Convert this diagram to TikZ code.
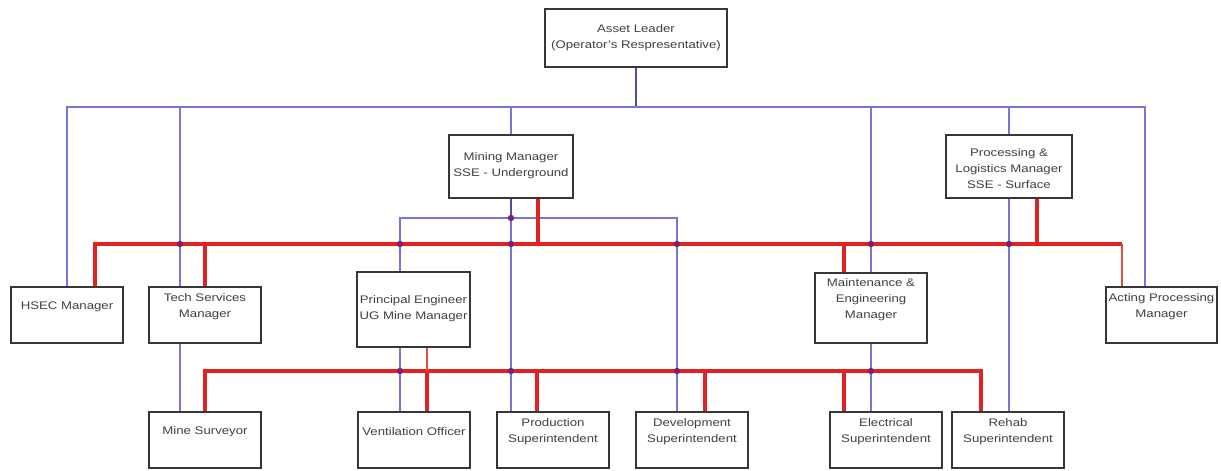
\documentclass[tikz,border=0pt]{standalone}
\usepackage{fontspec}
\setmainfont{Liberation Sans}[FakeStretch=1.2]
\usepackage{tikz}

\definecolor{orgblue}{RGB}{118,118,214}
\definecolor{orgnavy}{RGB}{78,78,160}
\definecolor{orgred}{RGB}{226,34,34}
\definecolor{orgrust}{RGB}{222,80,60}
\definecolor{orgdot}{RGB}{125,35,105}
\definecolor{orgbox}{RGB}{55,55,55}

\begin{document}
\begin{tikzpicture}[x=1pt, y=-1pt,
    post/.style={draw=orgbox, line width=1.3pt, fill=white, minimum width=112pt, minimum height=56pt, inner sep=0pt},
    posttext/.style={align=center, font=\fontsize{11}{16}\selectfont, text=black!75, inner sep=0pt},
    link/.style={draw=orgblue, line width=1.4pt},
    linkdark/.style={draw=orgnavy, line width=1.4pt},
    duty/.style={draw=orgred, line width=4pt},
    thinduty/.style={draw=orgrust, line width=2.4pt}]

    \fill[white] (0,0) rectangle (1221,471);
    \useasboundingbox (0,0) rectangle (1221,471);

    \coordinate (busA) at (0,107);
    \coordinate (busB) at (0,218);
    \coordinate (busC) at (0,244);
    \coordinate (busD) at (0,371);

    \node[post, minimum width=182pt, minimum height=58pt] (lead) at (636,38) {};
    \node[posttext] (leadT) at (636,38) {Asset Leader\\(Operator's Respresentative)};

    \node[post, minimum width=124pt, minimum height=63pt] (mm) at (511,166.5) {};
    \node[posttext] (mmT) at (511,166) {Mining Manager\\SSE - Underground};

    \node[post, minimum width=126pt, minimum height=63pt] (plm) at (1009,166.5) {};
    \node[posttext] (plmT) at (1009,169) {Processing \&\\Logistics Manager\\SSE - Surface};

    \node[post] (hsec) at (67,315) {};
    \node[posttext] (hsecT) at (67,307) {HSEC Manager};

    \node[post] (tech) at (205,315) {};
    \node[posttext] (techT) at (205,307) {Tech Services\\Manager};

    \node[post, minimum width=113pt, minimum height=75pt] (pe) at (413.5,309.5) {};
    \node[posttext] (peT) at (413.5,309) {Principal Engineer\\UG Mine Manager};

    \node[post, minimum height=70pt] (mem) at (871,308) {};
    \node[posttext] (memT) at (871,300) {Maintenance \&\\Engineering\\Manager};

    \node[post, minimum width=111pt] (apm) at (1161.5,315) {};
    \node[posttext] (apmT) at (1161.5,307) {Acting Processing\\Manager};

    \node[post] (surv) at (205,440) {};
    \node[posttext] (survT) at (205,432) {Mine Surveyor};

    \node[post] (vent) at (414,440) {};
    \node[posttext] (ventT) at (414,432) {Ventilation Officer};

    \node[post] (prod) at (553,440) {};
    \node[posttext] (prodT) at (553,432) {Production\\Superintendent};

    \node[post] (dev) at (692,440) {};
    \node[posttext] (devT) at (692,432) {Development\\Superintendent};

    \node[post] (elec) at (886,440) {};
    \node[posttext] (elecT) at (886,432) {Electrical\\Superintendent};

    \node[post] (rehab) at (1008,440) {};
    \node[posttext] (rehabT) at (1008,432) {Rehab\\Superintendent};

    \draw[linkdark] (lead.south) -- (lead.south |- busA);
    \draw[link] (hsec.north) |- ([xshift=-16.5pt]apm.north |- busA) -- ([xshift=-16.5pt]apm.north);
    \draw[link] ([xshift=-25pt]tech.north |- busA) -- ([xshift=-25pt]tech.north);
    \draw[link] (mm.north |- busA) -- (mm.north);
    \draw[link] (mem.north |- busA) -- (mem.north);
    \draw[link] (plm.north |- busA) -- (plm.north);

    \draw[linkdark] (mm.south) -- (mm.south |- busB);
    \draw[link] ([xshift=-13.5pt]pe.north) |- ([xshift=-15pt]dev.north |- busB) -- ([xshift=-15pt]dev.north);
    \draw[link] (mm.south |- busB) -- ([xshift=-42pt]prod.north);
    \draw[link] ([xshift=-13.5pt]pe.south) -- ([xshift=-14pt]vent.north);
    \draw[link] ([xshift=-25pt]tech.south) -- ([xshift=-25pt]surv.north);
    \draw[link] (mem.south) -- ([xshift=-15pt]elec.north);
    \draw[link] (plm.south) -- ([xshift=1pt]rehab.north);

    \draw[duty] ([xshift=28pt]hsec.north) |- ([xshift=-39.5pt]apm.north |- busC);
    \draw[thinduty] ([xshift=-39.5pt]apm.north |- busC) -- ([xshift=-39.5pt]apm.north);
    \draw[duty] (tech.north |- busC) -- (tech.north);
    \draw[duty] ([xshift=27pt]mm.south) -- ([xshift=27pt]mm.south |- busC);
    \draw[duty] ([xshift=-27pt]mem.north |- busC) -- ([xshift=-27pt]mem.north);
    \draw[duty] ([xshift=28pt]plm.south) -- ([xshift=28pt]plm.south |- busC);

    \draw[duty] (surv.north) |- ([xshift=-27pt]rehab.north |- busD) -- ([xshift=-27pt]rehab.north);
    \draw[thinduty] ([xshift=13.5pt]pe.south) -- ([xshift=13pt]vent.north |- busD);
    \draw[duty] ([xshift=13pt]vent.north |- busD) -- ([xshift=13pt]vent.north);
    \draw[duty] ([xshift=-16pt]prod.north |- busD) -- ([xshift=-16pt]prod.north);
    \draw[duty] ([xshift=13pt]dev.north |- busD) -- ([xshift=13pt]dev.north);
    \draw[duty] ([xshift=-42pt]elec.north |- busD) -- ([xshift=-42pt]elec.north);

    \fill[orgdot] (180,244) circle (3.2pt);
    \fill[orgdot] (400,244) circle (3.2pt);
    \fill[orgdot] (511,244) circle (3.2pt);
    \fill[orgdot] (677,244) circle (3.2pt);
    \fill[orgdot] (871,244) circle (3.2pt);
    \fill[orgdot] (1009,244) circle (3.2pt);
    \fill[orgdot] (511,218) circle (3.2pt);

    \fill[orgdot] (400,371) circle (3.2pt);
    \fill[orgdot] (511,371) circle (3.2pt);
    \fill[orgdot] (677,371) circle (3.2pt);
    \fill[orgdot] (871,371) circle (3.2pt);
\end{tikzpicture}
\end{document}
